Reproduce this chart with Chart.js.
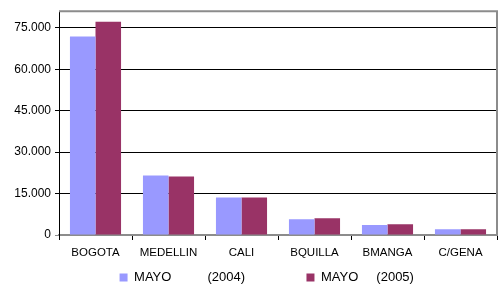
<!DOCTYPE html>
<html>
<head>
<meta charset="utf-8">
<script src="https://cdn.jsdelivr.net/npm/chart.js@4"></script>
<style>
  html, body { margin: 0; padding: 0; background: #fff; }
  #wrap { width: 499px; height: 284px; }
</style>
</head>
<body>
<div id="wrap"><canvas id="myChart" width="499" height="284"></canvas></div>
<script>
var cities = ["BOGOTA", "MEDELLIN", "CALI", "BQUILLA", "BMANGA", "C/GENA"];
var mayo2004 = [71800, 21500, 13600, 5700, 3600, 2100];
var mayo2005 = [77200, 21200, 13600, 6100, 3900, 2100];
var seriesNames = ["MAYO          (2004)", "MAYO     (2005)"];
var yTicks = [0, 15000, 30000, 45000, 60000, 75000];

// spaces so the two legend entries sit where the original puts them
var gapAfter = ["                 ", "                       "];

// grey frame on top and right of plot area
var frame = {
    id: 'frame',
    afterDraw: function (chart) {
        var a = chart.chartArea, c = chart.ctx;
        c.save();
        c.strokeStyle = '#8c8c8c';
        c.lineWidth = 2;
        c.beginPath();
        c.moveTo(a.left, a.top);
        c.lineTo(a.right, a.top);
        c.lineTo(a.right, a.bottom);
        c.stroke();
        c.restore();
    }
};

var ctx = document.getElementById("myChart").getContext('2d');
var myChart = new Chart(ctx, {
    type: 'bar',
    data: {
        labels: cities,
        datasets: [{
            label: seriesNames[0],
            data: mayo2004,
            backgroundColor: '#9999ff',
            categoryPercentage: 0.7,
            barPercentage: 1
        }, {
            label: seriesNames[1],
            data: mayo2005,
            backgroundColor: '#993366',
            categoryPercentage: 0.7,
            barPercentage: 1
        }]
    },
    options: {
        responsive: false,
        animation: false,
        layout: { padding: { top: 8, right: 2, left: 0, bottom: -10 } },
        plugins: {
            legend: {
                position: 'bottom',
                align: 'end',
                labels: {
                    boxWidth: 8, boxHeight: 8, padding: 0,
                    color: '#000',
                    font: { family: 'Liberation Sans', size: 13 },
                    generateLabels: function (chart) {
                        var items = Chart.defaults.plugins.legend.labels.generateLabels(chart);
                        items.forEach(function (it, i) { it.text = it.text + gapAfter[i]; });
                        return items;
                    }
                }
            },
            tooltip: { enabled: false }
        },
        scales: {
            x: {
                grid: { drawOnChartArea: false, drawTicks: true, tickLength: 5, color: '#000', offset: true },
                border: { color: '#8c8c8c', width: 2 },
                ticks: { color: '#000', font: { family: 'Liberation Sans', size: 11.5 }, padding: 6, maxRotation: 0 },
                afterFit: function (s) { s.height = 36; }
            },
            y: {
                min: 0, max: 81000,
                afterBuildTicks: function (s) { s.ticks = yTicks.map(function (v) { return { value: v }; }); },
                grid: {
                    color: function (c) { return c.tick && c.tick.value === 0 ? '#8c8c8c' : '#000'; },
                    tickLength: 4
                },
                border: { color: '#000', width: 1 },
                ticks: {
                    color: '#000', padding: 4,
                    font: { family: 'Liberation Sans', size: 12 },
                    callback: function (v) { return v === 0 ? '0' : (v / 1000).toFixed(3); }
                },
                afterFit: function (s) { s.width = 59; }
            }
        }
    },
    plugins: [frame]
});
</script>
</body>
</html>
